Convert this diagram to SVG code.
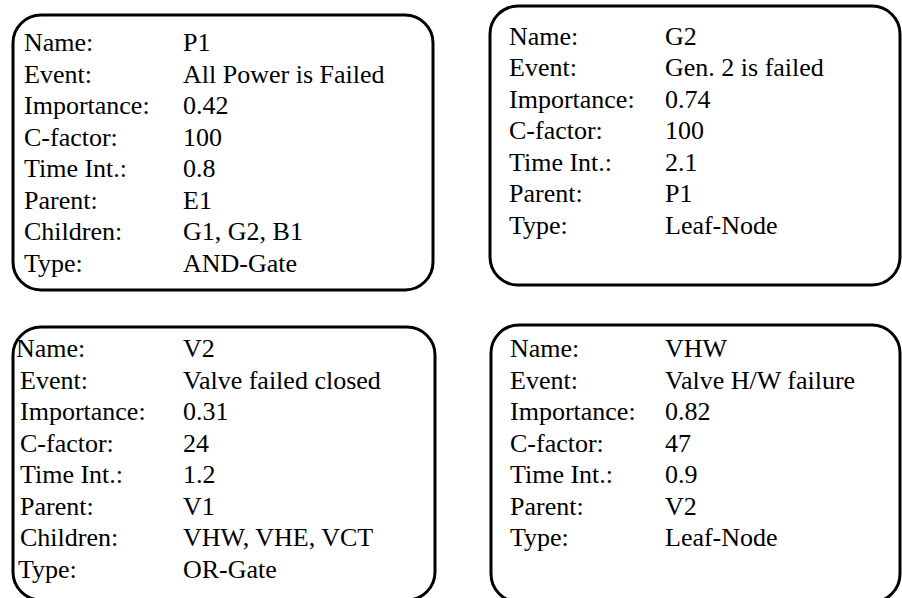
<svg xmlns="http://www.w3.org/2000/svg" width="902" height="598" viewBox="0 0 902 598">
<style>
.box{fill:none;stroke:#000;stroke-width:3}
text{font-family:"Liberation Serif","Times New Roman",serif;font-size:26px;fill:#000}
</style>
<rect width="902" height="598" fill="#fff"/>
<g id="node-P1">
<rect class="box" x="13" y="15" width="420" height="275" rx="28" ry="28"/>
<text x="24" y="51">Name:</text><text x="183" y="51">P1</text>
<text x="24" y="82.5">Event:</text><text x="183" y="82.5">All Power is Failed</text>
<text x="24" y="114">Importance:</text><text x="183" y="114">0.42</text>
<text x="24" y="145.5">C-factor:</text><text x="183" y="145.5">100</text>
<text x="24" y="177">Time Int.:</text><text x="183" y="177">0.8</text>
<text x="24" y="208.5">Parent:</text><text x="183" y="208.5">E1</text>
<text x="24" y="240">Children:</text><text x="183" y="240">G1, G2, B1</text>
<text x="24" y="272">Type:</text><text x="183" y="272">AND-Gate</text>
</g>
<g id="node-G2">
<rect class="box" x="490" y="6" width="410" height="279" rx="28" ry="28"/>
<text x="509" y="44.5">Name:</text><text x="665" y="44.5">G2</text>
<text x="509" y="76">Event:</text><text x="665" y="76">Gen. 2 is failed</text>
<text x="509" y="107.5">Importance:</text><text x="665" y="107.5">0.74</text>
<text x="509" y="139">C-factor:</text><text x="665" y="139">100</text>
<text x="509" y="170.5">Time Int.:</text><text x="665" y="170.5">2.1</text>
<text x="509" y="202">Parent:</text><text x="665" y="202">P1</text>
<text x="509" y="233.5">Type:</text><text x="665" y="233.5">Leaf-Node</text>
</g>
<g id="node-V2">
<rect class="box" x="13" y="327" width="422" height="273" rx="28" ry="28"/>
<text x="16" y="357">Name:</text><text x="183" y="357">V2</text>
<text x="20" y="388.5">Event:</text><text x="183" y="388.5">Valve failed closed</text>
<text x="20" y="420">Importance:</text><text x="183" y="420">0.31</text>
<text x="20" y="451.5">C-factor:</text><text x="183" y="451.5">24</text>
<text x="20" y="483">Time Int.:</text><text x="183" y="483">1.2</text>
<text x="20" y="514.5">Parent:</text><text x="183" y="514.5">V1</text>
<text x="20" y="546">Children:</text><text x="183" y="546">VHW, VHE, VCT</text>
<text x="18" y="578">Type:</text><text x="183" y="578">OR-Gate</text>
</g>
<g id="node-VHW">
<rect class="box" x="491" y="325" width="409" height="277" rx="28" ry="28"/>
<text x="510" y="357">Name:</text><text x="665" y="357">VHW</text>
<text x="510" y="388.5">Event:</text><text x="665" y="388.5">Valve H/W failure</text>
<text x="510" y="420">Importance:</text><text x="665" y="420">0.82</text>
<text x="510" y="451.5">C-factor:</text><text x="665" y="451.5">47</text>
<text x="510" y="483">Time Int.:</text><text x="665" y="483">0.9</text>
<text x="510" y="514.5">Parent:</text><text x="665" y="514.5">V2</text>
<text x="510" y="546">Type:</text><text x="665" y="546">Leaf-Node</text>
</g>
<g id="connectors"/>
</svg>
